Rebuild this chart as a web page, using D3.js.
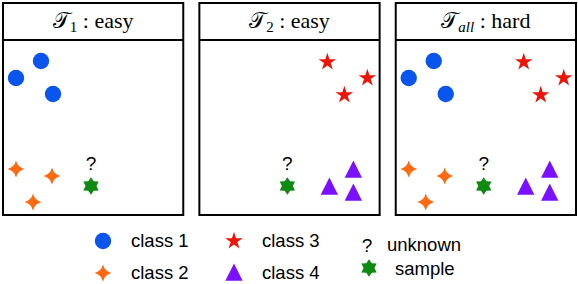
<!DOCTYPE html>
<html>
<head>
<meta charset="utf-8">
<script src="https://cdn.jsdelivr.net/npm/d3@7"></script>
<style>
  body { margin: 0; background: #fff; }
  svg { display: block; }
</style>
</head>
<body>
<svg width="578" height="284"></svg>
<script>
// points, y grows upwards
const class1 = [[38, 154], [13, 137], [50, 121]];
const class2 = [[13, 46], [49, 39], [30, 13]];
const class3 = [[128, 153], [168, 137], [145, 120]];
const class4 = [[154, 45], [130, 28], [154, 22]];
const samplePoint = [88, 29];

const classNames = ['class 1', 'class 2', 'class 3', 'class 4'];
const classColors = ['#0a55ee', '#ff6a10', '#ee1508', '#7a10ff'];
const sampleColor = '#0e8a12';

const taskSubs = ['1', '2', 'all'];
const taskLevels = ['easy', 'easy', 'hard'];
const taskClasses = [[0, 1], [2, 3], [0, 1, 2, 3]];

const svg = d3.select('svg');
const width = +svg.attr('width');

// custom symbol shapes
const sparkle4 = {
  draw(ctx, size) {
    const r = Math.sqrt(size);
    const c = r * 0.2;
    ctx.moveTo(0, -r);
    ctx.quadraticCurveTo(c, -c, r, 0);
    ctx.quadraticCurveTo(c, c, 0, r);
    ctx.quadraticCurveTo(-c, c, -r, 0);
    ctx.quadraticCurveTo(-c, -c, 0, -r);
    ctx.closePath();
  }
};
const star6 = {
  draw(ctx, size) {
    const r = Math.sqrt(size);
    const ri = r * 0.62;
    for (let i = 0; i < 12; i++) {
      const a = -Math.PI / 2 + i * Math.PI / 6;
      const rr = i % 2 ? ri : r;
      if (i === 0) ctx.moveTo(rr * Math.cos(a), rr * Math.sin(a));
      else ctx.lineTo(rr * Math.cos(a), rr * Math.sin(a));
    }
    ctx.closePath();
  }
};
const tri = {
  draw(ctx, size) {
    const h = Math.sqrt(size);
    ctx.moveTo(0, -h * 0.55);
    ctx.lineTo(h * 0.5, h * 0.45);
    ctx.lineTo(-h * 0.5, h * 0.45);
    ctx.closePath();
  }
};

const classSymbols = [
  d3.symbol().type(d3.symbolCircle).size(211),
  d3.symbol().type(sparkle4).size(72),
  d3.symbol().type(d3.symbolStar).size(95),
  d3.symbol().type(tri).size(300)
];
const sampleSymbol = d3.symbol().type(star6).size(78);
const classData = [class1, class2, class3, class4];

const panelX = d3.scaleBand()
  .domain(d3.range(taskSubs.length))
  .range([3, width - 2])
  .paddingInner(0.082);

const boxTop = 3, headerBottom = 40, boxBottom = 215;

taskSubs.forEach((sub, i) => {
  const left = panelX(i);
  const bw = panelX.bandwidth();
  const x = d3.scaleLinear().domain([0, 180]).range([left, left + 180]);
  const y = d3.scaleLinear().domain([0, 175]).range([boxBottom, headerBottom]);

  const g = svg.append('g');

  g.append('rect')
    .attr('x', left).attr('y', boxTop)
    .attr('width', bw).attr('height', boxBottom - boxTop)
    .attr('fill', 'none').attr('stroke', '#000').attr('stroke-width', 2);
  g.append('line')
    .attr('x1', left).attr('x2', left + bw)
    .attr('y1', headerBottom).attr('y2', headerBottom)
    .attr('stroke', '#000').attr('stroke-width', 2);

  const title = g.append('text')
    .attr('x', left + bw / 2).attr('y', 28)
    .attr('text-anchor', 'middle')
    .attr('font-family', 'Liberation Serif, serif')
    .attr('font-size', 22);
  title.append('tspan').text('\u{1D4AF}');
  title.append('tspan')
    .attr('font-size', 15).attr('dy', 4)
    .attr('font-style', sub === 'all' ? 'italic' : 'normal')
    .text(sub);
  title.append('tspan').attr('dy', -4).text(' : ' + taskLevels[i]);

  taskClasses[i].forEach(c => {
    g.selectAll(null)
      .data(classData[c])
      .join('path')
        .attr('transform', d => `translate(${x(d[0])},${y(d[1])})`)
        .attr('d', classSymbols[c]())
        .attr('fill', classColors[c]);
  });

  g.append('path')
    .attr('transform', `translate(${x(samplePoint[0])},${y(samplePoint[1])})`)
    .attr('d', sampleSymbol())
    .attr('fill', sampleColor);
  g.append('text')
    .attr('x', x(samplePoint[0])).attr('y', y(samplePoint[1]) - 16)
    .attr('text-anchor', 'middle')
    .attr('font-family', 'Liberation Sans, sans-serif')
    .attr('font-size', 19)
    .text('?');
});

// legend
const legendFont = 'Liberation Sans, Arial, sans-serif';
const legendCols = [103, 234];
const legendRows = [241, 273];
classNames.forEach((name, c) => {
  const cx = legendCols[Math.floor(c / 2)];
  const cy = legendRows[c % 2];
  svg.append('path')
    .attr('transform', `translate(${cx},${cy})`)
    .attr('d', classSymbols[c]())
    .attr('fill', classColors[c]);
  svg.append('text')
    .attr('x', cx + 28).attr('y', cy + 6)
    .attr('font-family', legendFont)
    .attr('font-size', 18.5)
    .text(name);
});

svg.append('text')
  .attr('x', 367).attr('y', 252)
  .attr('text-anchor', 'middle')
  .attr('font-family', legendFont)
  .attr('font-size', 19)
  .text('?');
svg.append('text')
  .attr('x', 387).attr('y', 251)
  .attr('font-family', legendFont)
  .attr('font-size', 18.5)
  .text('unknown');
svg.append('path')
  .attr('transform', 'translate(369,268)')
  .attr('d', sampleSymbol())
  .attr('fill', sampleColor);
svg.append('text')
  .attr('x', 395).attr('y', 275)
  .attr('font-family', legendFont)
  .attr('font-size', 18.5)
  .text('sample');
</script>
</body>
</html>
